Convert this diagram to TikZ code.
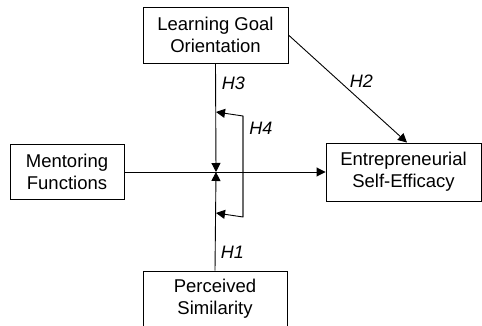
\documentclass[tikz,border=0pt]{standalone}
\usepackage{fontspec}
\setmainfont{Liberation Sans}
\usetikzlibrary{
    positioning,  % 相对定位
    arrows.meta   % 箭头样式
}

\begin{document}
\begin{tikzpicture}[
        x=1pt, y=1pt,
        box/.style={
            rectangle,
            draw=black,
            line width=0.9pt,
            minimum width=#1,
            minimum height=56pt,
            inner sep=0pt,
            align=center,
            font=\fontsize{18.5}{22}\selectfont
        },
        box/.default=145pt,
        hyp/.style={
            font=\fontsize{18}{20}\selectfont\itshape,
            inner sep=0pt
        },
        arrow/.style={
            -{Triangle[length=9pt,width=9pt]},
            line width=0.9pt
        }
    ]
    \useasboundingbox (0,0) rectangle (482,326);
    \clip (0,0) rectangle (482,326);

    % 变量框
    \node[box=145pt] (goal) at (215.5,291) {Learning Goal\\Orientation};
    \node[box=114pt, minimum height=55pt] (mentor) at (67,154) {Mentoring\\Functions};
    \node[box=155pt, minimum height=58pt] (efficacy) at (403.5,154) {Entrepreneurial\\Self-Efficacy};
    \node[box=144pt] (similar) at (215,27) {Perceived\\Similarity};

    % 交汇点与调节括号
    \coordinate (meet) at (216,154);
    \coordinate (h4top) at (216,214);
    \coordinate (h4topc) at (243,210);
    \coordinate (h4botc) at (243,109);
    \coordinate (h4bot) at (216,113);

    % 箭头连接
    \draw[arrow] (mentor) -- (efficacy);
    \draw[arrow] (goal.south) -- (meet);
    \draw[arrow] (similar.north) -- (meet);
    \draw[arrow] (goal.east) -- ([xshift=3.5pt]efficacy.north);
    \draw[arrow] (h4topc) -- (h4botc) -- (h4bot);
    \draw[arrow] (h4botc) -- (h4topc) -- (h4top);

    % 假设标注
    \node[hyp] (h3) at (233.5,242.5) {H3};
    \node[hyp] (h2) at (361.5,245) {H2};
    \node[hyp] (h4) at (261,197.5) {H4};
    \node[hyp] (h1) at (232.5,74) {H1};
\end{tikzpicture}
\end{document}
